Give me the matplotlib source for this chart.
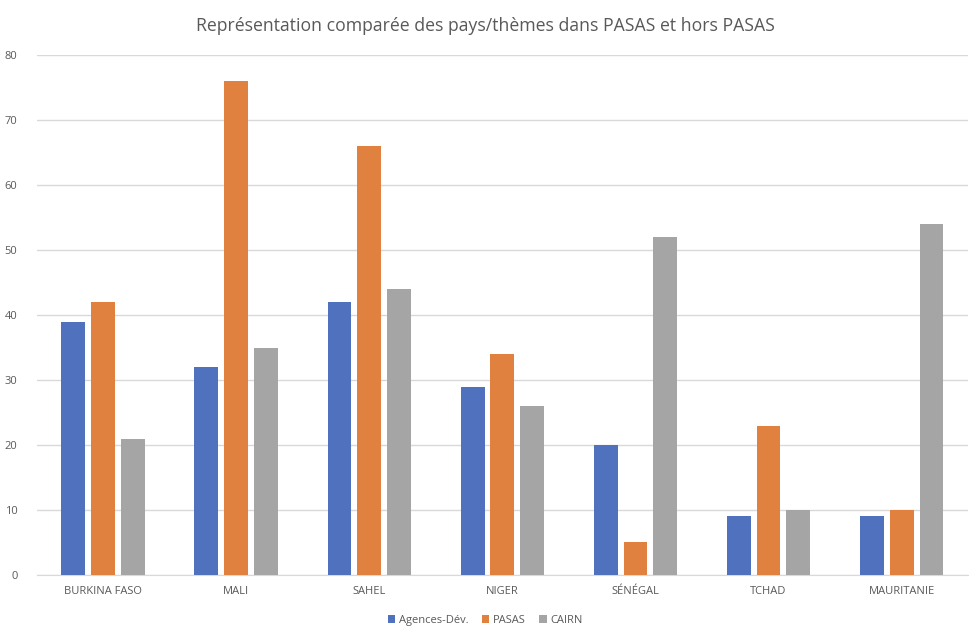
import matplotlib
matplotlib.use("Agg")
import matplotlib.pyplot as plt
import numpy as np

categories = ["BURKINA FASO", "MALI", "SAHEL", "NIGER", "SÉNÉGAL", "TCHAD", "MAURITANIE"]
agences = [39, 32, 42, 29, 20, 9, 9]
pasas = [42, 76, 66, 34, 5, 23, 10]
cairn = [21, 35, 44, 26, 52, 10, 54]
series_names = ["Agences-Dév.", "PASAS", "CAIRN"]
colors = ["#4F71BE", "#E0813F", "#A5A5A5"]

plt.rcParams['font.family'] = ['Open Sans', 'DejaVu Sans']
fig = plt.figure(figsize=(9.7, 6.28), dpi=100)
ax = fig.add_axes([0.038, 0.0844, 0.96, 0.828])

x = np.arange(len(categories))
w = 0.18
step = 0.225
for i, (vals, name, c) in enumerate(zip([agences, pasas, cairn], series_names, colors)):
    ax.bar(x + (i - 1) * step, vals, width=w, color=c, label=name, zorder=3)

ax.set_xlim(-0.5, len(categories) - 0.5)
ax.set_ylim(0, 80)
ax.set_yticks(range(0, 81, 10))
ax.set_xticks(x)
ax.set_xticklabels(categories)
ax.grid(axis='y', color='#D9D9D9', linewidth=1, zorder=0)
for s in ['top', 'right', 'left']:
    ax.spines[s].set_visible(False)
ax.spines['bottom'].set_color('#D9D9D9')
ax.tick_params(axis='both', length=0, labelsize=8, colors='#595959', pad=8)
ax.tick_params(axis='y', pad=14)

fig.text(0.5, 0.958, "Représentation comparée des pays/thèmes dans PASAS et hors PASAS",
         ha='center', va='center', fontsize=12.7, color='#595959')
fig.legend(loc='center', bbox_to_anchor=(0.5, 0.012), ncol=3, frameon=False,
           fontsize=8, handlelength=0.7, handleheight=0.7, handletextpad=0.3,
           columnspacing=1.2, labelcolor='#595959')

fig.savefig("out.png", dpi=100)
